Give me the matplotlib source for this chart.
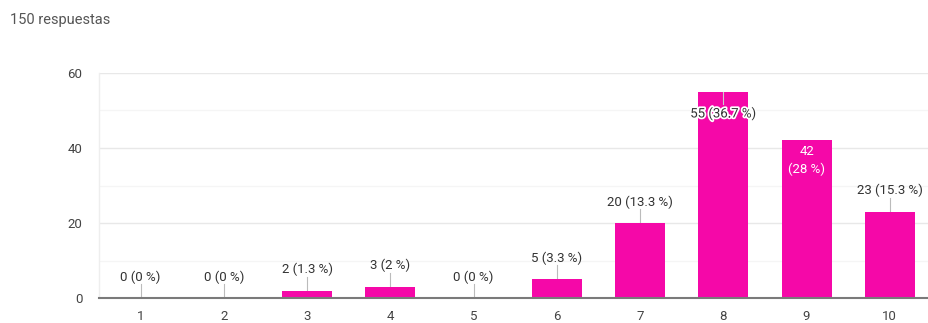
import matplotlib
matplotlib.use("Agg")
import matplotlib.pyplot as plt
import matplotlib.patheffects as pe

categories = ["1", "2", "3", "4", "5", "6", "7", "8", "9", "10"]
counts = [0, 0, 2, 3, 0, 5, 20, 55, 42, 23]
percent_labels = ["0 %", "0 %", "1.3 %", "2 %", "0 %", "3.3 %", "13.3 %", "36.7 %", "28 %", "15.3 %"]
y_ticks = [0, 20, 40, 60]
total_text = "150 respuestas"

plt.rcParams["font.family"] = ["Roboto", "DejaVu Sans"]

W, H = 929, 323
fig = plt.figure(figsize=(W / 100, H / 100), dpi=100)
left_px, right_px, base_px, top_px = 99, 931.5, 298, 73
ax = fig.add_axes([left_px / W, (H - base_px) / H,
                   (right_px - left_px) / W, (base_px - top_px) / H])

bar_color = "#f508a8"
x = list(range(1, len(categories) + 1))
ax.bar(x, counts, width=0.6, color=bar_color, zorder=3)

ax.set_xlim(0.5, len(categories) + 0.5)
ax.set_ylim(0, 60)
ax.set_yticks(y_ticks)
ax.set_yticks([10, 30, 50], minor=True)
ax.set_xticks(x)
ax.set_xticklabels(categories)
ax.tick_params(axis="both", length=0, labelsize=9.5, colors="#444444")
ax.tick_params(axis="x", pad=9)
ax.tick_params(axis="y", pad=12)
ax.tick_params(axis="y", which="minor", length=0)
ax.grid(axis="y", which="major", color="#e8e8e8", linewidth=1, zorder=0)
ax.grid(axis="y", which="minor", color="#f5f5f5", linewidth=1, zorder=0)
for s in ["top", "right"]:
    ax.spines[s].set_visible(False)
ax.spines["left"].set_color("#eeeeee")
ax.spines["left"].set_linewidth(1)
ax.spines["bottom"].set_color("#7a7a7a")
ax.spines["bottom"].set_linewidth(1.5)
ax.spines["bottom"].set_zorder(4)

px = 60 / (base_px - top_px)  # data units per pixel
label_kw = dict(ha="center", va="center", fontsize=9.5, color="#333333", zorder=5)
for xi, c, p in zip(x, counts, percent_labels):
    if c == 55:
        ax.plot([xi, xi], [c, c - 12 * px], color="#cccccc", lw=0.8, zorder=4)
        ax.text(xi, c - 22 * px, f"{c} ({p})",
                path_effects=[pe.withStroke(linewidth=2.5, foreground="white")],
                **label_kw)
    elif c == 42:
        ax.text(xi, c - 11 * px, f"{c}", ha="center", va="center",
                fontsize=9.5, color="white", zorder=5)
        ax.text(xi, c - 29 * px, f"({p})", ha="center", va="center",
                fontsize=9.5, color="white", zorder=5)
    else:
        ax.plot([xi, xi], [c, c + 14 * px], color="#bbbbbb", lw=0.8, zorder=2)
        ax.text(xi, c + 21 * px, f"{c} ({p})", **label_kw)

fig.text(10 / W, 1 - 20 / H, total_text, ha="left", va="center",
         fontsize=10.5, color="#555555")

fig.savefig("out.png", dpi=100, facecolor="white")
